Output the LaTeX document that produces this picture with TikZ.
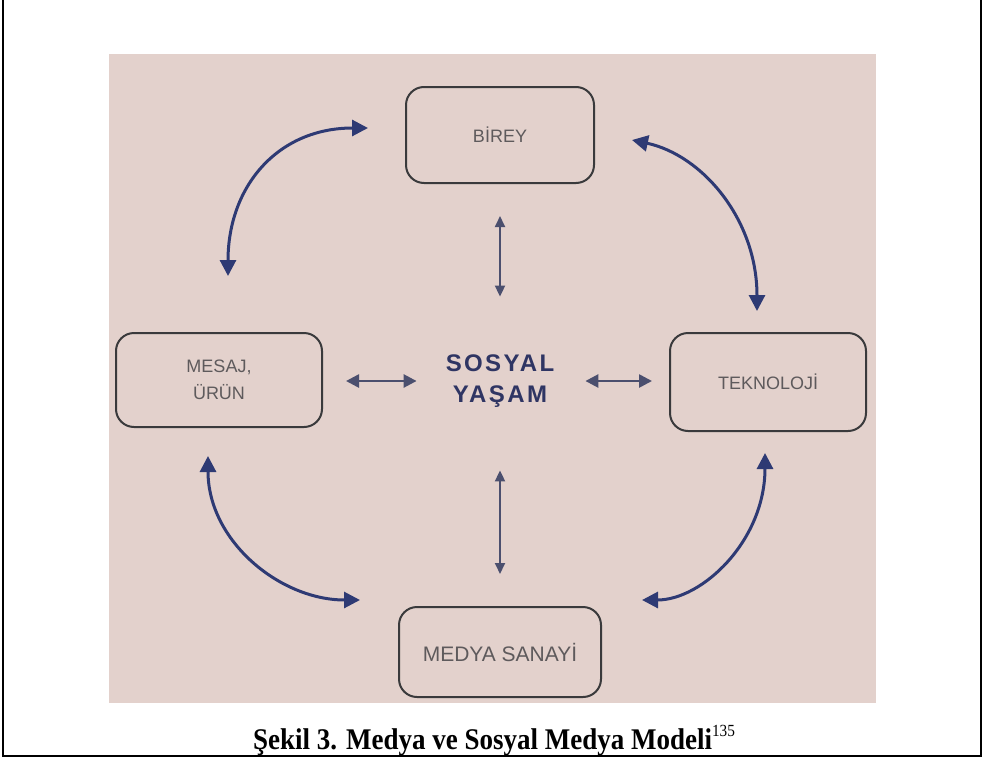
\documentclass[tikz,border=0pt]{standalone}
\usepackage{fontspec}
\setmainfont{Liberation Serif}
\setsansfont{Liberation Sans}
\newfontfamily\hubfont[LetterSpace=10]{Liberation Sans}
\newfontfamily\capfont[FakeStretch=0.9]{Liberation Serif}
\usetikzlibrary{calc, arrows.meta, positioning}
\definecolor{paper}{HTML}{E3D1CC}
\definecolor{edge}{HTML}{3A3A3C}
\definecolor{label}{HTML}{5E5A5C}
\definecolor{navy}{HTML}{2E3A74}
\definecolor{slate}{HTML}{4B4F6E}
\definecolor{hub}{HTML}{2F3563}

\begin{document}
\begin{tikzpicture}[x=0.5pt, y=-0.5pt,
    actor/.style={draw=edge, line width=1pt, rounded corners=9pt, align=center,
      text=label, font=\sffamily\fontsize{9}{13.5}\selectfont, inner sep=0pt},
    loop/.style={navy, line width=1.5pt, {Triangle[length=8pt,width=8pt]}-{Triangle[length=8pt,width=8pt]}},
    spoke/.style={slate, line width=1.3pt, {Triangle[length=6.5pt,width=6.5pt]}-{Triangle[length=6.5pt,width=6.5pt]}},
    thinspoke/.style={slate, line width=0.9pt, {Triangle[length=5.5pt,width=5pt]}-{Triangle[length=5.5pt,width=5pt]}}]
    \useasboundingbox (0,0) rectangle (984,760);
    % photo and frame
    \fill[paper] (109,54) rectangle (876,703);
    \draw[line width=1pt] (3,0) -- (3,756) -- (981,756) -- (981,0);
    % boxes
    \node[actor, minimum width=94pt, minimum height=48pt] (birey) at (500,135) {B\.IREY};
    \node[actor, minimum width=103pt, minimum height=47pt] (mesaj) at (219,380) {MESAJ,\\ÜRÜN};
    \node[actor, minimum width=98pt, minimum height=49pt] (tekno) at (768,382) {TEKNOLOJ\.I};
    \node[actor, minimum width=101pt, minimum height=45pt, font=\sffamily\fontsize{10.5}{13}\selectfont] (medya) at (500,652) {MEDYA SANAY\.I};
    \node[hub, font=\hubfont\bfseries\fontsize{12}{15.5}\selectfont, align=center, inner sep=0pt,
      minimum width=60pt, minimum height=28pt] (sosyal) at (500,381) {SOSYAL\\YAŞAM};
    % spokes
    \draw[spoke, shorten <=11.5pt, shorten >=11.5pt] (mesaj.east |- sosyal) -- (sosyal.west);
    \draw[spoke, shorten <=12.5pt, shorten >=8.5pt] (sosyal.east) -- (tekno.west |- sosyal);
    \draw[thinspoke, shorten <=16pt, shorten >=28pt] (birey.south) -- (sosyal.north);
    \draw[thinspoke, shorten <=30.5pt, shorten >=16pt] (sosyal.south) -- (medya.north);
    % outer ring
    \draw[loop] ($(birey.west)+(-37,-7)$) .. controls +(-90,0) and +(0,-90) .. ($(mesaj.north)+(9,-56)$);
    \draw[loop] ($(birey.east)+(37,5)$) .. controls +(70,15) and +(0,-92) .. ($(tekno.north)+(-11,-21)$);
    \draw[loop] ($(mesaj.south)+(-11,28)$) .. controls +(0,85) and +(-80,0) .. ($(medya.west)+(-38,-52)$);
    \draw[loop] ($(tekno.south)+(-3,21)$) .. controls +(0,88) and +(60,0) .. ($(medya.east)+(40,-52)$);
    % caption
    \node[font=\capfont\bfseries\fontsize{15}{17}\selectfont, anchor=base, inner sep=0pt] (caption) at (494,749)
      {Şekil 3. Medya ve Sosyal Medya Modeli\raisebox{6.5pt}{\fontsize{8.5}{9}\selectfont\mdseries 135}};
  \end{tikzpicture}
\end{document}
